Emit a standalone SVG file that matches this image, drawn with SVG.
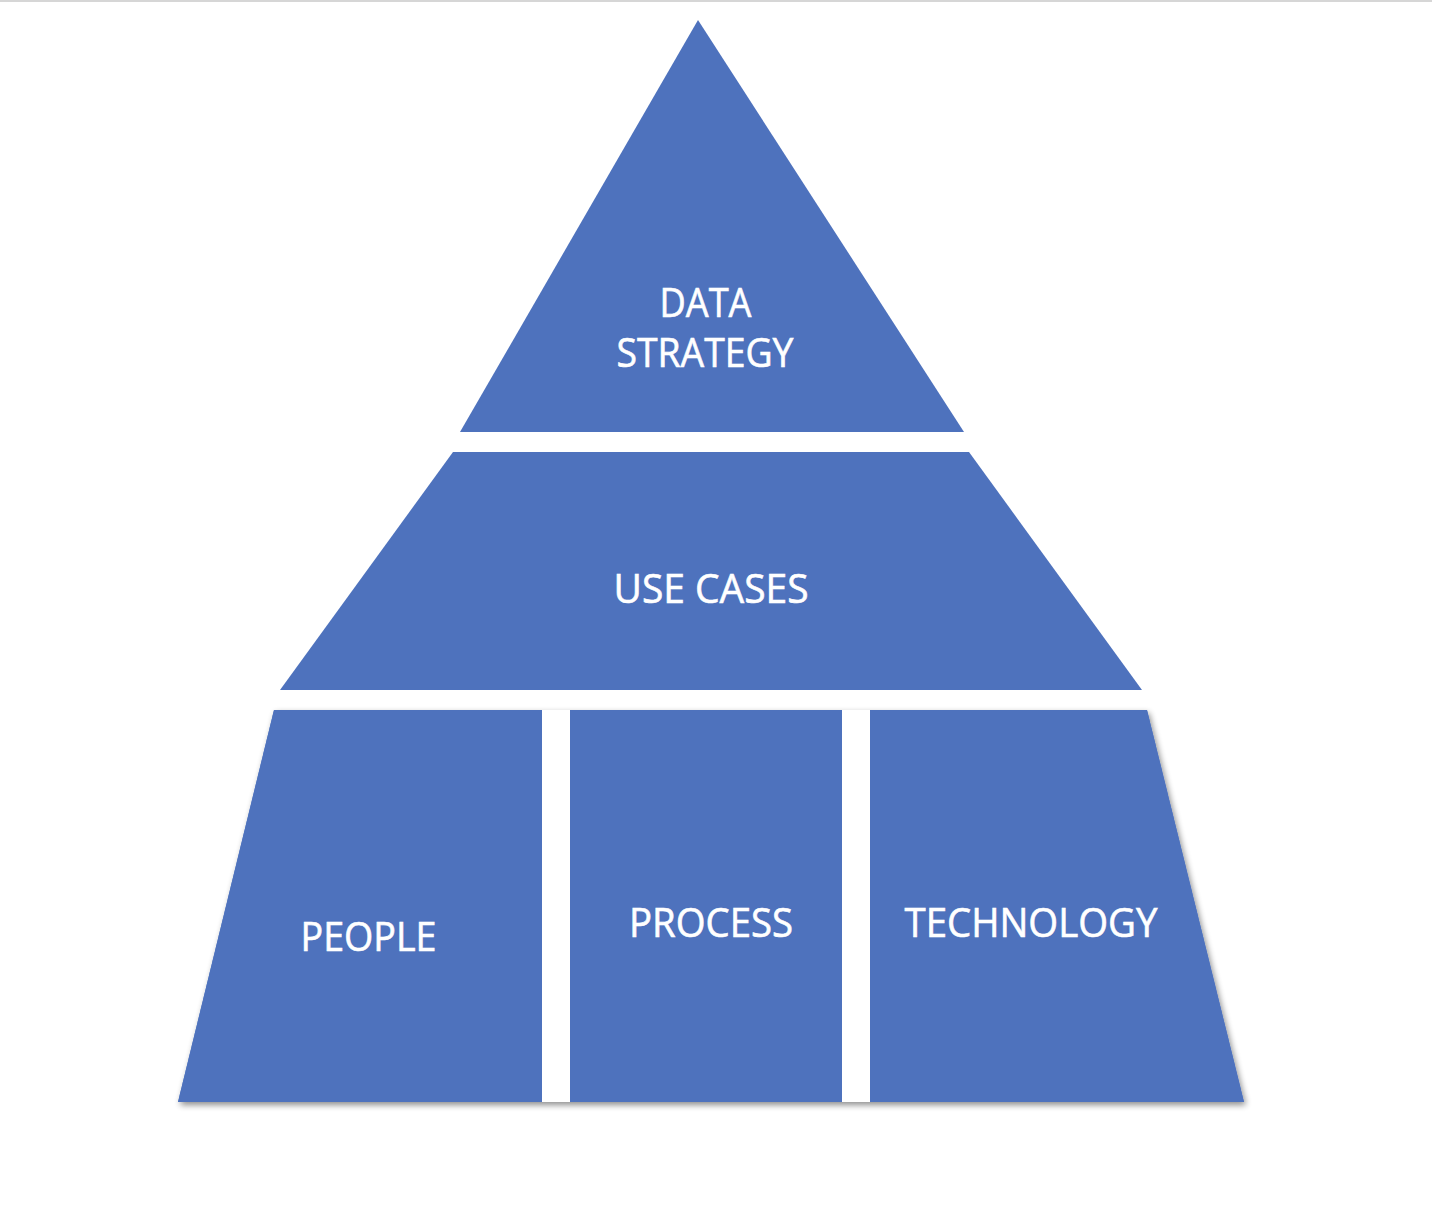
<svg xmlns="http://www.w3.org/2000/svg" width="1432" height="1216" viewBox="0 0 1432 1216">
  <defs>
    <filter id="shadow" x="-10%" y="-10%" width="120%" height="120%">
      <feGaussianBlur in="SourceAlpha" stdDeviation="3"/>
      <feOffset dx="2" dy="3" result="b"/>
      <feComponentTransfer><feFuncA type="linear" slope="0.45"/></feComponentTransfer>
      <feMerge><feMergeNode/><feMergeNode in="SourceGraphic"/></feMerge>
    </filter>
  </defs>
  <style>
    .tier { fill: #4E72BD; }
    .gap { fill: #FFFFFF; }
    .lbl { fill: #FFFFFF; stroke: #FFFFFF; stroke-width: 0.6px; font-family: "Open Sans", "Noto Sans", "Liberation Sans", sans-serif; font-size: 40px; text-anchor: middle; }
  </style>
  <rect x="0" y="0" width="1432" height="1216" fill="#FFFFFF"/>
  <rect x="0" y="0" width="1432" height="2" fill="#D6D6D6"/>

  <g id="data-strategy">
    <polygon class="tier" points="698,20 964,432 460,432"/>
    <text class="lbl" x="705.5" y="317" textLength="92" lengthAdjust="spacingAndGlyphs">DATA</text>
    <text class="lbl" x="705" y="367" textLength="177" lengthAdjust="spacingAndGlyphs">STRATEGY</text>
  </g>

  <g id="use-cases">
    <polygon class="tier" points="453,452 969,452 1142,690 280,690"/>
    <text class="lbl" x="711" y="603" textLength="195" lengthAdjust="spacingAndGlyphs">USE CASES</text>
  </g>

  <g id="foundation">
    <polygon class="tier" points="274,710 1147,710 1244,1102 178,1102" filter="url(#shadow)"/>
    <rect class="gap" x="542" y="710" width="28" height="392"/>
    <rect class="gap" x="842" y="710" width="28" height="392"/>
    <g id="people">
      <polygon class="tier" points="274,710 542,710 542,1102 178,1102"/>
      <text class="lbl" x="368.5" y="951" textLength="136" lengthAdjust="spacingAndGlyphs">PEOPLE</text>
    </g>
    <g id="process">
      <rect class="tier" x="570" y="710" width="272" height="392"/>
      <text class="lbl" x="711" y="937" textLength="164" lengthAdjust="spacingAndGlyphs">PROCESS</text>
    </g>
    <g id="technology">
      <polygon class="tier" points="870,710 1147,710 1244,1102 870,1102"/>
      <text class="lbl" x="1031" y="937" textLength="253" lengthAdjust="spacingAndGlyphs">TECHNOLOGY</text>
    </g>
  </g>

  <g id="connectors"></g>
</svg>
